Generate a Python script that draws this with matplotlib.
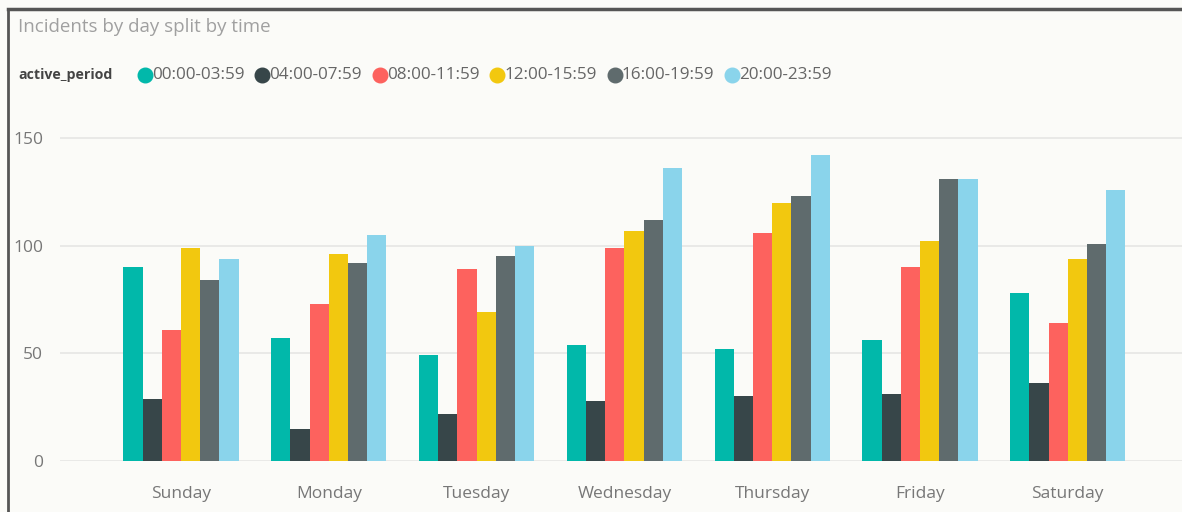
import matplotlib.pyplot as plt
import numpy as np
from matplotlib.lines import Line2D

days = ['Sunday', 'Monday', 'Tuesday', 'Wednesday', 'Thursday', 'Friday', 'Saturday']
periods = ['00:00-03:59', '04:00-07:59', '08:00-11:59', '12:00-15:59', '16:00-19:59', '20:00-23:59']
colors = ['#01B8AA', '#374649', '#FD625E', '#F2C80F', '#5F6B6D', '#8AD4EB']

# 每个时段一列数据，顺序对应 days
p0 = [90, 57, 49, 54, 52, 56, 78]
p1 = [29, 15, 22, 28, 30, 31, 36]
p2 = [61, 73, 89, 99, 106, 90, 64]
p3 = [99, 96, 69, 107, 120, 102, 94]
p4 = [84, 92, 95, 112, 123, 131, 101]
p5 = [94, 105, 100, 136, 142, 131, 126]
series = [p0, p1, p2, p3, p4, p5]

bg = '#FBFBF8'
fam = ['Open Sans', 'DejaVu Sans']
plt.rcParams['font.family'] = fam

fig = plt.figure(figsize=(11.82, 5.12), dpi=100, facecolor=bg)
W, H = 1182, 512

# 外框
fig.add_artist(Line2D([8/W, 8/W], [0, 1 - 8.5/H], color='#555555', lw=2))
fig.add_artist(Line2D([8/W, 1], [1 - 8.5/H, 1 - 8.5/H], color='#555555', lw=2.5))

# 坐标区：y=0 在 461px，y=160 在 116.5px
ax = fig.add_axes([60/W, (H - 461)/H, (W - 60)/W, (461 - 116.5)/H])
ax.set_facecolor(bg)
x = np.arange(len(days))
bw = 0.13
for k, vals in enumerate(series):
    ax.bar(x + (k - 2.5) * bw, vals, bw, color=colors[k], label=periods[k], zorder=3)

ax.set_xlim(-0.819, 6.773)
ax.set_ylim(0, 160)
ax.set_yticks([0, 50, 100, 150])
ax.set_xticks(x)
ax.set_xticklabels(days)
ax.grid(axis='y', color='#E6E6E4', lw=1.2, zorder=0)
for s in ax.spines.values():
    s.set_visible(False)
ax.tick_params(length=0, colors='#777777', labelsize=12.5)
ax.tick_params(axis='x', pad=18)
ax.tick_params(axis='y', pad=12)

fig.text(18/W, 1 - 27/H, 'Incidents by day split by time', fontsize=13.5,
         color='#A0A0A0', va='center', ha='left')
fig.text(18/W, 1 - 75/H, 'active_period', fontsize=10.2, fontweight='bold',
         color='#444444', va='center', ha='left')

# 图例：圆点加文字
for k in range(6):
    cx = 145 + 117.4 * k
    fig.add_artist(Line2D([cx/W], [1 - 75/H], marker='o', ls='', markersize=10.5,
                          color=colors[k]))
    fig.text((cx + 7)/W, 1 - 75/H, periods[k], fontsize=12.3, color='#666666',
             va='center', ha='left')

fig.savefig('out.png', dpi=100, facecolor=bg)
